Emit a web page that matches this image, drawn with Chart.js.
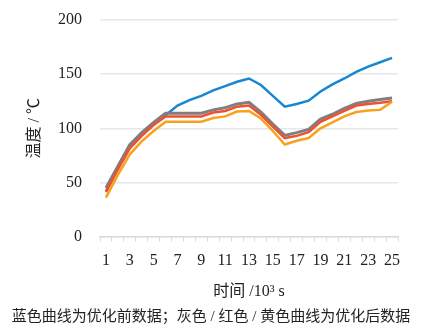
<!DOCTYPE html>
<html lang="zh">
<head>
    <meta charset="UTF-8">
    <title>温度曲线</title>
    <script src="https://cdn.jsdelivr.net/npm/chart.js"></script>
    <style>
        html, body { margin: 0; padding: 0; background: #fff; }
        #box { width: 426px; height: 334px; position: relative; }
    </style>
</head>
<body>
    <div id="box"><canvas id="tempChart"></canvas></div>
    <script>
        // 时间 (10^3 s)
        const categories = [1, 2, 3, 4, 5, 6, 7, 8, 9, 10, 11, 12, 13, 14, 15, 16, 17, 18, 19, 20, 21, 22, 23, 24, 25];
        const yTicks = [0, 50, 100, 150, 200];

        // 优化前 (蓝色)
        const blueData = [42, 63, 83, 95, 104, 112, 121, 126, 130, 135, 139, 143, 146, 140, 130, 120, 122.5, 125.5, 134, 140.5, 146, 152, 157, 161, 165];
        // 优化后 (灰色 / 红色 / 黄色)
        const grayData = [45, 65, 85, 96, 105.5, 114, 114, 114, 114, 117, 119, 122.5, 124, 115, 104, 93.5, 96, 99, 108.5, 113, 118.5, 123, 125, 126.5, 128];
        const redData = [41, 62, 81.5, 93, 103, 111, 111, 111, 111, 114.5, 116, 120, 121, 112.5, 101.5, 91, 93, 96.5, 106, 111, 116, 121, 122.5, 123.5, 125];
        const orangeData = [36, 57, 76, 88, 97.5, 106, 106, 106, 106, 109.5, 111, 115.5, 116, 109, 97.5, 85, 88.5, 91, 100, 105.5, 111, 115, 116.5, 117, 124.5];

        const caption = '蓝色曲线为优化前数据；灰色 / 红色 / 黄色曲线为优化后数据';
        const serif = "'Liberation Serif', 'Noto Sans CJK SC', serif";

        // 图下方说明文字
        const captionPlugin = {
            id: 'caption',
            afterDraw(chart) {
                const c = chart.ctx;
                c.save();
                c.font = "15px " + serif;
                c.fillStyle = '#222';
                c.textAlign = 'center';
                c.textBaseline = 'middle';
                c.fillText(caption, 211, 317);
                c.restore();
            }
        };

        function line(label, data, color, width) {
            return {
                label: label,
                data: data,
                borderColor: color,
                backgroundColor: color,
                borderWidth: width,
                pointRadius: 0,
                tension: 0,
                fill: false
            };
        }

        const ctx = document.getElementById('tempChart').getContext('2d');
        new Chart(ctx, {
            type: 'line',
            data: {
                labels: categories,
                datasets: [
                    line('黄色', orangeData, '#f7a11f', 2.5),
                    line('红色', redData, '#ee5130', 2.5),
                    line('灰色', grayData, '#7f7f7f', 3),
                    line('蓝色', blueData, '#1787cf', 2.5)
                ]
            },
            options: {
                responsive: true,
                maintainAspectRatio: false,
                animation: false,
                layout: { padding: { left: 0, right: 28, top: 20, bottom: 33 } },
                plugins: {
                    legend: { display: false },
                    tooltip: { enabled: false }
                },
                scales: {
                    x: {
                        offset: true,
                        grid: {
                            offset: true,
                            drawOnChartArea: false,
                            drawTicks: true,
                            tickLength: 5,
                            color: '#d9d9d9'
                        },
                        border: { color: '#d9d9d9', width: 1.5 },
                        ticks: {
                            autoSkip: false,
                            maxRotation: 0,
                            padding: 10,
                            color: '#222',
                            font: { family: serif, size: 16 },
                            callback: function (v, i) { return i % 2 === 0 ? String(categories[i]) : ''; }
                        },
                        title: {
                            display: true,
                            text: '时间 /10³ s',
                            color: '#222',
                            font: { family: serif, size: 16 },
                            padding: { top: 1, bottom: 0 }
                        }
                    },
                    y: {
                        min: 0,
                        max: 200,
                        afterBuildTicks: function (scale) {
                            scale.ticks = yTicks.map(v => ({ value: v }));
                        },
                        afterFit: function (scale) {
                            scale.width = 100;
                            scale.paddingTop = 0;
                            scale.paddingBottom = 0;
                        },
                        grid: {
                            drawTicks: false,
                            color: '#e1e8ee',
                            lineWidth: 1.5
                        },
                        border: { display: false },
                        ticks: {
                            padding: 18,
                            color: '#222',
                            font: { family: serif, size: 16 }
                        },
                        title: {
                            display: true,
                            text: '温度 / ℃',
                            color: '#222',
                            font: { family: serif, size: 16 },
                            padding: { top: 25, bottom: 0 }
                        }
                    }
                }
            },
            plugins: [captionPlugin]
        });
    </script>
</body>
</html>
